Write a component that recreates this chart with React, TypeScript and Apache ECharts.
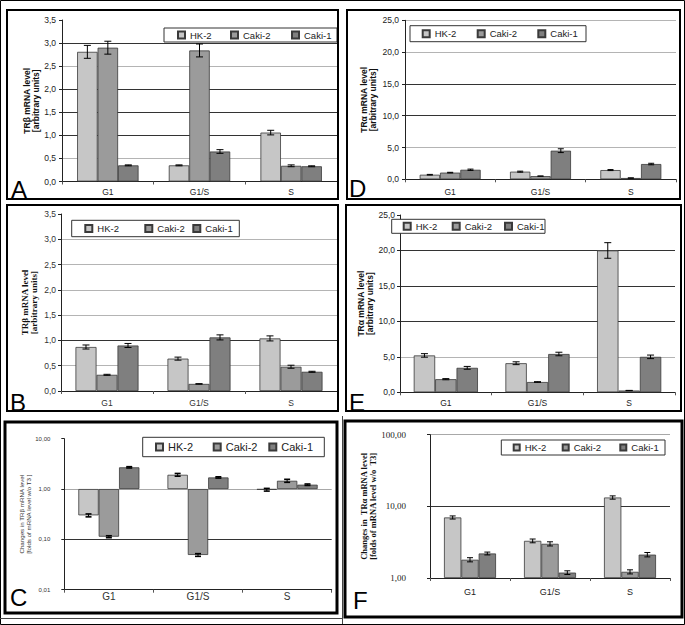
import React, { useEffect, useRef } from 'react';
import * as echarts from 'echarts';

// ---------- data ----------
const categories = ['G1', 'G1/S', 'S'];
const seriesNames = ['HK-2', 'Caki-2', 'Caki-1'];

// Panel A: TRβ mRNA level [arbitrary units]
const aHK2 = [2.81, 0.35, 1.06];
const aCaki2 = [2.9, 2.84, 0.34];
const aCaki1 = [0.35, 0.65, 0.33];
const aErrHK2 = [0.14, 0.01, 0.05];
const aErrCaki2 = [0.14, 0.14, 0.02];
const aErrCaki1 = [0.01, 0.04, 0.01];

// Panel D: TRα mRNA level [arbitrary units]
const dHK2 = [0.72, 1.2, 1.45];
const dCaki2 = [1.05, 0.5, 0.2];
const dCaki1 = [1.5, 4.5, 2.4];
const dErrHK2 = [0.05, 0.08, 0.08];
const dErrCaki2 = [0.05, 0.02, 0.02];
const dErrCaki1 = [0.1, 0.3, 0.12];

// Panel B: TRβ mRNA level [arbitrary units]
const bHK2 = [0.87, 0.64, 1.04];
const bCaki2 = [0.32, 0.14, 0.48];
const bCaki1 = [0.9, 1.06, 0.38];
const bErrHK2 = [0.04, 0.03, 0.05];
const bErrCaki2 = [0.01, 0.005, 0.03];
const bErrCaki1 = [0.04, 0.05, 0.01];

// Panel E: TRα mRNA level [arbitrary units]
const eHK2 = [5.2, 4.1, 20.0];
const eCaki2 = [1.85, 1.45, 0.25];
const eCaki1 = [3.45, 5.4, 5.0];
const eErrHK2 = [0.25, 0.2, 1.1];
const eErrCaki2 = [0.08, 0.05, 0.02];
const eErrCaki1 = [0.2, 0.25, 0.25];

// Panel C: changes in TRβ mRNA level (folds, log scale)
const cHK2 = [0.3, 1.92, 0.97];
const cCaki2 = [0.113, 0.049, 1.46];
const cCaki1 = [2.7, 1.7, 1.22];
const cErrHK2 = [0.02, 0.12, 0.06];
const cErrCaki2 = [0.005, 0.003, 0.1];
const cErrCaki1 = [0.08, 0.05, 0.04];

// Panel F: changes in TRα mRNA level (folds, log scale)
const fHK2 = [7.0, 3.3, 13.3];
const fCaki2 = [1.8, 3.0, 1.22];
const fCaki1 = [2.2, 1.19, 2.12];
const fErrHK2 = [0.35, 0.2, 0.7];
const fErrCaki2 = [0.12, 0.2, 0.08];
const fErrCaki1 = [0.1, 0.07, 0.15];

// ---------- styling ----------
const SANS = "'Liberation Sans', Arial, sans-serif";
const SERIF = "'Liberation Serif', 'Times New Roman', serif";
const COLORS = ['#c6c6c6', '#9b9b9b', '#7f7f7f'];
const GL = '#b4b4b4';
const DK = '#333333';
const NONE = 'rgba(0,0,0,0)';

type Panel = any;

const panels: Panel[] = [
  {
    letter: 'A', letterPos: [11, 189], box: [7, 10, 331, 189], boxW: 2,
    grid: [62, 20, 275, 161.5], log: false, min: 0, max: 3.5, interval: 0.5, dec: 1,
    gridColors: [DK, GL, DK, DK, DK, GL, DK, NONE],
    values: [aHK2, aCaki2, aCaki1], errors: [aErrHK2, aErrCaki2, aErrCaki1], gap: 0.33,
    yName: 'TRβ mRNA level\n[arbitrary units]', nameGap: 21,
    nameStyle: { fontSize: 8.5, fontWeight: 'bold', fontFamily: SANS, lineHeight: 9, color: '#111' },
    tickStyle: { fontSize: 8.5, fontFamily: SANS, color: '#222' }, tickMargin: 6,
    catStyle: { fontSize: 8.5, fontFamily: SANS, color: '#222' }, catMargin: 6,
    legendBox: [164, 28, 173, 14], legendX: [177, 230, 291], legendFont: 9.5, icon: 7,
    cap: 7, errW: 1,
  },
  {
    letter: 'D', letterPos: [349, 188], box: [347, 10, 333, 189], boxW: 2,
    grid: [405, 20.3, 271, 159], log: false, min: 0, max: 25, interval: 5, dec: 1,
    gridColors: [DK, GL, DK, DK, GL, GL],
    values: [dHK2, dCaki2, dCaki1], errors: [dErrHK2, dErrCaki2, dErrCaki1], gap: 0.325,
    yName: 'TRα mRNA level\n[arbitrary units]', nameGap: 28,
    nameStyle: { fontSize: 8.5, fontWeight: 'bold', fontFamily: SANS, lineHeight: 9, color: '#111' },
    tickStyle: { fontSize: 8.5, fontFamily: SANS, color: '#222' }, tickMargin: 6,
    catStyle: { fontSize: 8.5, fontFamily: SANS, color: '#222' }, catMargin: 8,
    legendBox: [410, 25.7, 176, 16], legendX: [421.7, 476.7, 537.3], legendFont: 9.5, icon: 7,
    cap: 6, errW: 1,
  },
  {
    letter: 'B', letterPos: [10, 402], box: [7, 205, 331, 206], boxW: 2,
    grid: [61, 214, 276, 177], log: false, min: 0, max: 3.5, interval: 0.5, dec: 1,
    gridColors: [DK, GL, DK, GL, GL, GL, GL, NONE],
    values: [bHK2, bCaki2, bCaki1], errors: [bErrHK2, bErrCaki2, bErrCaki1], gap: 0.315,
    yName: 'TRβ mRNA level\n[arbitrary units]', nameGap: 23,
    nameStyle: { fontSize: 9, fontWeight: 'bold', fontFamily: SERIF, lineHeight: 9, color: '#111' },
    tickStyle: { fontSize: 8.5, fontFamily: SANS, color: '#333' }, tickMargin: 5,
    catStyle: { fontSize: 8.5, fontFamily: SANS, color: '#333' }, catMargin: 7,
    legendBox: [71.7, 220.3, 167.6, 16.4], legendX: [84.3, 144.3, 192.3], legendFont: 9.5, icon: 7,
    cap: 7, errW: 1,
  },
  {
    letter: 'E', letterPos: [349, 402], box: [346, 205, 335, 206], boxW: 2,
    grid: [400, 215, 275, 177.3], log: false, min: 0, max: 25, interval: 5, dec: 1,
    gridColors: [DK, GL, DK, DK, DK, NONE],
    values: [eHK2, eCaki2, eCaki1], errors: [eErrHK2, eErrCaki2, eErrCaki1], gap: 0.3,
    yName: 'TRα mRNA level\n[arbitrary units]', nameGap: 26,
    nameStyle: { fontSize: 8.5, fontWeight: 'bold', fontFamily: SANS, lineHeight: 9, color: '#111' },
    tickStyle: { fontSize: 8.5, fontFamily: SANS, color: '#222' }, tickMargin: 5,
    catStyle: { fontSize: 8.5, fontFamily: SANS, color: '#222' }, catMargin: 6,
    legendBox: [391.7, 219.3, 153.3, 14], legendX: [402.7, 451.7, 504], legendFont: 9.5, icon: 7,
    cap: 7, errW: 1,
  },
  {
    letter: 'C', letterPos: [10, 597], box: [5, 422, 332, 191], boxW: 3,
    grid: [64.3, 438.7, 267.4, 151], log: true, min: 0.01, max: 10, dec: 2,
    gridColors: [DK, DK, '#a8a8a8', NONE],
    values: [cHK2, cCaki2, cCaki1], errors: [cErrHK2, cErrCaki2, cErrCaki1], gap: 0.315,
    yName: 'Changes in TRβ mRNA level\n[folds of mRNA level w/o T3 ]', nameGap: 32,
    nameStyle: { fontSize: 6.2, fontFamily: SANS, lineHeight: 6.5, color: '#333' },
    tickStyle: { fontSize: 6, fontFamily: SANS, color: '#333' }, tickMargin: 14,
    catStyle: { fontSize: 10, fontFamily: SANS, color: '#333' }, catMargin: 2,
    legendBox: [142.7, 437.3, 181.6, 19.4], legendX: [155, 212.7, 268.3], legendFont: 11, icon: 7,
    cap: 6, errW: 1.6,
  },
  {
    letter: 'F', letterPos: [353, 600], box: [345, 421, 337, 196], boxW: 3,
    grid: [430, 434.7, 240, 143.3], log: true, min: 1, max: 100, dec: 2,
    gridColors: [DK, DK, '#a8a8a8'],
    values: [fHK2, fCaki2, fCaki1], errors: [fErrHK2, fErrCaki2, fErrCaki1], gap: 0.35,
    yName: 'Changes in  TRα mRNA level\n[folds of mRNA level w/o  T3]', nameGap: 48,
    nameStyle: { fontSize: 8.5, fontWeight: 'bold', fontFamily: SERIF, lineHeight: 9, color: '#111' },
    tickStyle: { fontSize: 9, fontFamily: SERIF, color: '#222' }, tickMargin: 24,
    catStyle: { fontSize: 9, fontFamily: SANS, color: '#222' }, catMargin: 9,
    legendBox: [501.3, 440, 163.7, 15], legendX: [512.7, 561.7, 619.3], legendFont: 9.5, icon: 6,
    cap: 6, errW: 1,
  },
];

function buildOption() {
  const grid: any[] = [];
  const xAxis: any[] = [];
  const yAxis: any[] = [];
  const series: any[] = [];
  const legend: any[] = [];
  const graphic: any[] = [];

  panels.forEach((p, i) => {
    grid.push({ left: p.grid[0], top: p.grid[1], width: p.grid[2], height: p.grid[3] });
    xAxis.push({
      type: 'category', gridIndex: i, data: categories,
      axisLine: { show: true, lineStyle: { color: '#222', width: 1 } },
      axisTick: { show: true, length: 3, lineStyle: { color: '#555' } },
      axisLabel: { ...p.catStyle, margin: p.catMargin },
      splitLine: { show: false },
    });
    const y: any = {
      type: p.log ? 'log' : 'value', gridIndex: i, min: p.min, max: p.max,
      axisLine: { show: true, lineStyle: { color: '#222', width: 1 } },
      axisTick: { show: true, length: 3, lineStyle: { color: '#222' } },
      axisLabel: {
        ...p.tickStyle, margin: p.tickMargin,
        formatter: (v: number) => Number(v).toFixed(p.dec).replace('.', ','),
      },
      splitLine: { show: true, lineStyle: { color: p.gridColors, width: 1 } },
      name: p.yName, nameLocation: 'middle', nameRotate: 90, nameGap: p.nameGap,
      nameTextStyle: { ...p.nameStyle, align: 'center' },
    };
    if (p.log) y.logBase = 10; else y.interval = p.interval;
    yAxis.push(y);

    seriesNames.forEach((name, s) => {
      series.push({
        type: 'bar', name, xAxisIndex: i, yAxisIndex: i, data: p.values[s],
        barGap: '0%', barCategoryGap: `${p.gap * 100}%`,
        itemStyle: { color: COLORS[s], borderColor: '#3a3a3a', borderWidth: 0.8 },
        z: 2,
      });
    });

    const errData: number[][] = [];
    seriesNames.forEach((_, s) => {
      p.values[s].forEach((v: number, c: number) => {
        const e = p.errors[s][c];
        errData.push([c, s, v - e, v + e]);
      });
    });
    series.push({
      type: 'custom', name: 'err' + i, xAxisIndex: i, yAxisIndex: i, z: 5, silent: true,
      data: errData, encode: { x: 0, y: [2, 3] },
      renderItem: (_params: any, api: any) => {
        const c = api.value(0);
        const s = api.value(1);
        const lo = api.value(2);
        const hi = api.value(3);
        const band = api.size([1, 0], [c, hi])[0];
        const bw = (band * (1 - p.gap)) / 3;
        const top = api.coord([c, hi]);
        const bot = api.coord([c, lo]);
        const x = top[0] + (s - 1) * bw;
        const h = p.cap / 2;
        const st = { stroke: '#000', lineWidth: p.errW };
        return {
          type: 'group',
          children: [
            { type: 'line', shape: { x1: x, y1: top[1], x2: x, y2: bot[1] }, style: { stroke: '#000', lineWidth: 1 } },
            { type: 'line', shape: { x1: x - h, y1: top[1], x2: x + h, y2: top[1] }, style: st },
            { type: 'line', shape: { x1: x - h, y1: bot[1], x2: x + h, y2: bot[1] }, style: st },
          ],
        };
      },
    });

    const lb = p.legendBox;
    const cy = lb[1] + lb[3] / 2;
    seriesNames.forEach((name, s) => {
      legend.push({
        data: [name], left: p.legendX[s], top: cy - 6, padding: 0,
        itemWidth: p.icon, itemHeight: p.icon, icon: 'rect', selectedMode: false, z: 20,
        textStyle: { fontSize: p.legendFont, fontFamily: SANS, color: '#222', lineHeight: 12 },
      });
    });
    graphic.push({
      type: 'rect', z: 15, silent: true,
      shape: { x: lb[0], y: lb[1], width: lb[2], height: lb[3] },
      style: { fill: '#fff', stroke: '#333', lineWidth: 1 },
    });
    graphic.push({
      type: 'rect', z: 30, silent: true,
      shape: { x: p.box[0], y: p.box[1], width: p.box[2], height: p.box[3] },
      style: { fill: 'none', stroke: '#000', lineWidth: p.boxW },
    });
    graphic.push({
      type: 'text', z: 30, silent: true, x: p.letterPos[0], y: p.letterPos[1],
      style: {
        text: p.letter, fontSize: 24, fontFamily: SANS, fill: '#000',
        textAlign: 'left', textVerticalAlign: 'middle', align: 'left', verticalAlign: 'middle',
      },
    });
  });

  graphic.push({
    type: 'rect', z: 30, silent: true,
    shape: { x: 0.5, y: 0.5, width: 684, height: 624 },
    style: { fill: 'none', stroke: '#000', lineWidth: 1 },
  });
  graphic.push({
    type: 'line', z: 30, silent: true,
    shape: { x1: 342.5, y1: 416, x2: 342.5, y2: 624 },
    style: { stroke: '#444', lineWidth: 1 },
  });
  graphic.push({
    type: 'line', z: 30, silent: true,
    shape: { x1: 0, y1: 618.5, x2: 342.5, y2: 618.5 },
    style: { stroke: '#444', lineWidth: 1 },
  });

  return {
    animation: false,
    backgroundColor: '#fff',
    grid, xAxis, yAxis, series, legend, graphic,
  };
}

export default function App() {
  const ref = useRef<HTMLDivElement>(null);
  useEffect(() => {
    if (!ref.current) return;
    const chart = echarts.init(ref.current, null, { renderer: 'svg' });
    chart.setOption(buildOption());
    return () => chart.dispose();
  }, []);
  return (
    <div
      ref={ref}
      style={{ position: 'absolute', left: 0, top: 0, width: 685, height: 625, background: '#fff' }}
    />
  );
}
